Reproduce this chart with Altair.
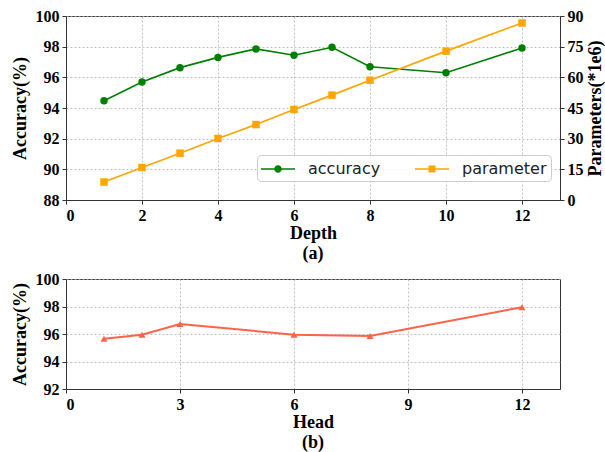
import altair as alt
import pandas as pd

# ---- data ----
depth = [1, 2, 3, 4, 5, 6, 7, 8, 10, 12]
depth_accuracy = [94.47, 95.70, 96.63, 97.30, 97.85, 97.44, 97.96, 96.69, 96.30, 97.91]
depth_params = [8.8, 15.9, 22.9, 30.1, 36.9, 44.3, 51.3, 58.6, 72.8, 86.6]

heads = [1, 2, 3, 6, 8, 12]
head_accuracy = [95.65, 95.95, 96.73, 95.95, 95.85, 97.95]

series_names = ["accuracy", "parameter"]
series_colors = ["green", "orange"]
head_color = "tomato"

depth_ticks = [0, 2, 4, 6, 8, 10, 12]
head_ticks = [0, 3, 6, 9, 12]
acc_ticks_top = [88, 90, 92, 94, 96, 98, 100]
param_ticks = [0, 15, 30, 45, 60, 75, 90]
acc_ticks_bottom = [92, 94, 96, 98, 100]

SERIF = "Times New Roman, Liberation Serif, Times, serif"
SANS = "DejaVu Sans"

# legend symbols: a line segment with a marker on it (unit = 10 px)
PATH_ACC = ("M-1,-0.075 L2.4,-0.075 L2.4,0.075 L-1,0.075 Z "
            "M1.07,0 A0.37,0.37 0 1,1 0.33,0 A0.37,0.37 0 1,1 1.07,0 Z")
PATH_PAR = ("M-1,-0.075 L2.4,-0.075 L2.4,0.075 L-1,0.075 Z "
            "M0.35,-0.35 L1.05,-0.35 L1.05,0.35 L0.35,0.35 Z")

df_depth = pd.DataFrame({"depth": depth, "accuracy": depth_accuracy, "parameter": depth_params})
df_head = pd.DataFrame({"head": heads, "accuracy": head_accuracy})
df_legend = pd.DataFrame({"series": series_names})

W = 494

def axis(**kw):
    return alt.Axis(labelFont=SERIF, labelFontWeight="bold", titleFont=SERIF,
                    titleFontWeight="bold", **kw)

def caption(text):
    return alt.TitleParams(text, orient="bottom", anchor="middle", font=SERIF, fontSize=18,
                           fontWeight="bold", color="black", offset=3)

x_depth = alt.X("depth:Q", scale=alt.Scale(domain=[0, 13], nice=False, zero=False),
                axis=axis(values=depth_ticks, title="Depth"))
y_acc = alt.Y("accuracy:Q", scale=alt.Scale(domain=[88, 100], nice=False, zero=False),
              axis=axis(values=acc_ticks_top, title="Accuracy(%)"))
y_par = alt.Y("parameter:Q", scale=alt.Scale(domain=[0, 90], nice=False, zero=False),
              axis=axis(values=param_ticks, title="Parameters(*1e6)", orient="right",
                        grid=False, titleAngle=270, titleBaseline="top", titlePadding=3))

base = alt.Chart(df_depth)
acc_layer = alt.layer(
    base.mark_line(color=series_colors[0], strokeWidth=1.7).encode(x=x_depth, y=y_acc),
    base.mark_point(shape="circle", filled=True, size=55, opacity=1,
                    color=series_colors[0]).encode(x=x_depth, y=y_acc),
)
par_layer = alt.layer(
    base.mark_line(color=series_colors[1], strokeWidth=1.7).encode(x=x_depth, y=y_par),
    base.mark_point(shape="square", filled=True, size=56, opacity=1,
                    color=series_colors[1]).encode(x=x_depth, y=y_par),
)

legend_props = dict(
    title=None, orient="none", legendX=191, legendY=139, direction="horizontal", columns=2,
    symbolSize=400, symbolStrokeWidth=0, labelFont=SANS, labelFontSize=16,
    labelColor="#222222", labelOffset=27, columnPadding=34, padding=4,
    fillColor="rgba(255,255,255,0.85)", strokeColor="#cccccc", cornerRadius=4,
)
legend_layer = alt.Chart(df_legend).transform_filter("false").mark_point(
    filled=True, opacity=1
).encode(
    color=alt.Color("series:N", scale=alt.Scale(domain=series_names, range=series_colors),
                    legend=alt.Legend(**legend_props)),
    shape=alt.Shape("series:N", scale=alt.Scale(domain=series_names, range=[PATH_ACC, PATH_PAR]),
                    legend=alt.Legend(**legend_props)),
)

top = alt.layer(acc_layer, par_layer, legend_layer).resolve_scale(y="independent").properties(
    width=W, height=184, title=caption("(a)")
)

x_head = alt.X("head:Q", scale=alt.Scale(domain=[0, 13], nice=False, zero=False),
               axis=axis(values=head_ticks, title="Head"))
y_head = alt.Y("accuracy:Q", scale=alt.Scale(domain=[92, 100], nice=False, zero=False),
               axis=axis(values=acc_ticks_bottom, title="Accuracy(%)"))
hbase = alt.Chart(df_head)
bottom = alt.layer(
    hbase.mark_line(color=head_color, strokeWidth=2).encode(x=x_head, y=y_head),
    hbase.mark_point(shape="triangle-up", filled=True, size=50, opacity=1,
                     color=head_color).encode(x=x_head, y=y_head),
).properties(width=W, height=110, title=caption("(b)"))

chart = alt.vconcat(top, bottom, spacing=6).resolve_scale(
    x="independent", y="independent", color="independent", shape="independent"
).resolve_legend(color="independent", shape="independent").properties(
    padding={"left": 10, "top": 7, "right": 0, "bottom": 0}
).configure_view(
    stroke="#333333", strokeWidth=1
).configure_axis(
    labelFont=SERIF, labelFontWeight="bold", labelFontSize=16, labelColor="black",
    titleFont=SERIF, titleFontWeight="bold", titleFontSize=18, titleColor="black",
    domainColor="#333333", tickColor="#333333", tickSize=4, labelPadding=3,
    gridColor="#b0b0b0", gridDash=[2, 2], gridWidth=0.8,
).configure_axisY(titlePadding=6).configure_axisX(titlePadding=1)

chart.save("out.html", embed_options={"renderer": "svg", "actions": False})
